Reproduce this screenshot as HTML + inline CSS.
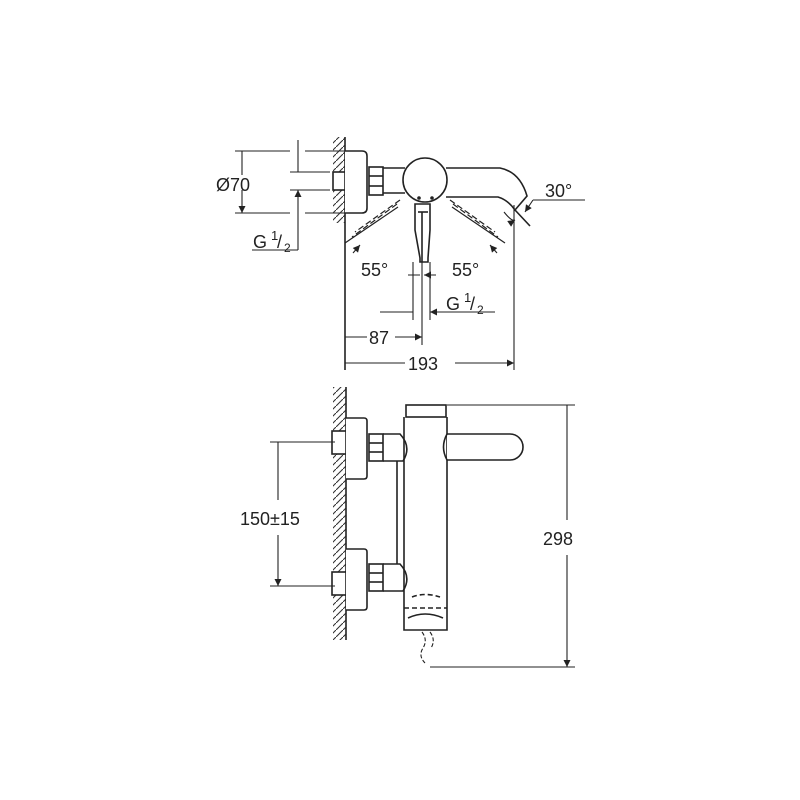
<!DOCTYPE html>
<html><head><meta charset="utf-8"><style>
html,body{margin:0;padding:0;background:#fff}
svg{display:block}
text{font-family:"Liberation Sans",sans-serif;fill:#222}
</style></head><body>
<svg width="800" height="800" viewBox="0 0 800 800" xmlns="http://www.w3.org/2000/svg">
<defs>
<pattern id="h" width="7" height="7" patternUnits="userSpaceOnUse">
<path d="M0,7 L7,0" stroke="#333" stroke-width="1.1"/>
</pattern>
<marker id="a" viewBox="0 0 10 10" refX="10" refY="5" markerWidth="13" markerHeight="7" orient="auto-start-reverse" markerUnits="userSpaceOnUse"><path d="M0,0 L10,5 L0,10z" fill="#222"/></marker>
</defs>
<g stroke="#222" stroke-width="1.6" fill="none">
<!-- TOP VIEW -->
<rect x="333" y="137" width="12" height="86" fill="url(#h)" stroke="none"/>
<line x1="345" y1="137" x2="345" y2="370"/>
<rect x="333" y="172" width="12" height="18" fill="#fff"/>
<path d="M345,151 H362 Q367,151 367,156 V208 Q367,213 362,213 H345" fill="#fff"/>
<rect x="369" y="167" width="14" height="28" fill="#fff"/>
<line x1="369" y1="176" x2="383" y2="176"/><line x1="369" y1="186" x2="383" y2="186"/>
<path d="M383,168 H405 M383,193 H405"/>
<path d="M446,168 H500 Q520,172 527,196 L515,210 Q508,200 498,197 H446" fill="#fff"/>
<circle cx="425" cy="180" r="22" fill="#fff"/>
<circle cx="419" cy="198" r="1" fill="#222"/><circle cx="432" cy="198" r="1" fill="#222"/>
<path d="M415,204 V230 L420,258 V262 H428 V258 L430,230 V204 Z" fill="#fff"/>
<path d="M418,212 H428"/>
<path d="M422,212 V262" />
<path d="M400,200 L355,232 M397,204 L352,237" stroke-dasharray="6,3" stroke-width="1.2"/>
<path d="M450,200 L495,232 M453,204 L498,237" stroke-dasharray="6,3" stroke-width="1.2"/>
<path d="M345,243 L398,207" stroke-width="1.2"/><path d="M505,243 L452,207" stroke-width="1.2"/>
<path d="M353,253 L360,245" marker-end="url(#a)" stroke-width="1.1"/>
<path d="M497,253 L490,245" marker-end="url(#a)" stroke-width="1.1"/>
<path d="M504,212 Q512,222 515,220" marker-end="url(#a)" stroke-width="1.1"/>
<path d="M515,210 L530,226"/>
<path d="M533,200 H585 M533,200 L525,212" marker-end="url(#a)" stroke-width="1.1"/>
<line x1="514" y1="205" x2="514" y2="370" stroke-width="1.1"/>
<line x1="413" y1="262" x2="413" y2="320" stroke-width="1.1"/>
<line x1="430" y1="262" x2="430" y2="320" stroke-width="1.1"/>
<line x1="422" y1="262" x2="422" y2="345" stroke-width="1.1"/>
<path d="M408,275 H420 M436,275 H424" marker-end="url(#a)" stroke-width="1.1"/>
<path d="M380,312 H413 M495,312 H430" marker-end="url(#a)" stroke-width="1.1"/>
<path d="M367,337 H345 M395,337 H422" marker-end="url(#a)" stroke-width="1.1"/>
<path d="M405,363 H345 M455,363 H514" marker-end="url(#a)" stroke-width="1.1"/>
<!-- Ø70 -->
<path d="M235,151 H290 M305,151 H345 M235,213 H290 M305,213 H345 M290,172 H330 M290,190 H330" stroke-width="1.1"/>
<path d="M242,175 V151 M242,190 V213" marker-end="url(#a)" stroke-width="1.1"/>
<path d="M298,140 V172 M298,250 V190" marker-end="url(#a)" stroke-width="1.1"/>
<path d="M252,250 H298" stroke-width="1.1"/>
<!-- SIDE VIEW -->
<rect x="333" y="387" width="13" height="253" fill="url(#h)" stroke="none"/>
<line x1="346" y1="387" x2="346" y2="640"/>
<rect x="332" y="431" width="14" height="23" fill="#fff"/>
<rect x="332" y="572" width="14" height="23" fill="#fff"/>
<path d="M346,418 H364 Q367,418 367,421 V476 Q367,479 364,479 H346" fill="#fff"/>
<path d="M346,549 H364 Q367,549 367,552 V607 Q367,610 364,610 H346" fill="#fff"/>
<rect x="369" y="434" width="14" height="27" fill="#fff"/>
<line x1="369" y1="443" x2="383" y2="443"/><line x1="369" y1="452" x2="383" y2="452"/>
<rect x="369" y="564" width="14" height="27" fill="#fff"/>
<line x1="369" y1="573" x2="383" y2="573"/><line x1="369" y1="582" x2="383" y2="582"/>
<path d="M397,461 V564"/>
<path d="M383,434 H400 Q412,447 403,461 H383 M383,564 H400 Q412,577 403,591 H383"/>
<path d="M404,417 V630 H447 V417"/>
<rect x="406" y="405" width="40" height="12" fill="#fff"/>
<path d="M447,434 H510 A13,13 0 0 1 510,460 H447" fill="#fff"/>
<path d="M447,434 Q440,447 447,460"/>
<path d="M404,608 H447 M412,597 Q425,592 440,597" stroke-dasharray="5,3"/>
<path d="M408,618 Q425,610 443,618"/>
<path d="M422,632 Q428,640 423,648 Q418,656 425,663 M430,632 Q436,640 431,648" stroke-dasharray="4,2" stroke-width="1.1"/>
<path d="M447,405 H575 M430,667 H575 M270,442 H335 M270,586 H335" stroke-width="1.1"/>
<path d="M567,520 V405 M567,555 V667" marker-end="url(#a)" stroke-width="1.1"/>
<path d="M278,500 V442 M278,535 V586" marker-end="url(#a)" stroke-width="1.1"/>
</g>
<g font-size="18">
<text x="216" y="191">Ø70</text>
<text x="253" y="248">G</text><text x="271" y="240" font-size="13">1</text><text x="277" y="248">/</text><text x="284" y="252" font-size="12">2</text>
<text x="545" y="197">30°</text>
<text x="361" y="276">55°</text>
<text x="452" y="276">55°</text>
<text x="446" y="310">G</text><text x="464" y="302" font-size="13">1</text><text x="470" y="310">/</text><text x="477" y="314" font-size="12">2</text>
<text x="369" y="344">87</text>
<text x="408" y="370">193</text>
<text x="240" y="525">150±15</text>
<text x="543" y="545">298</text>
</g>
</svg>
</body></html>
